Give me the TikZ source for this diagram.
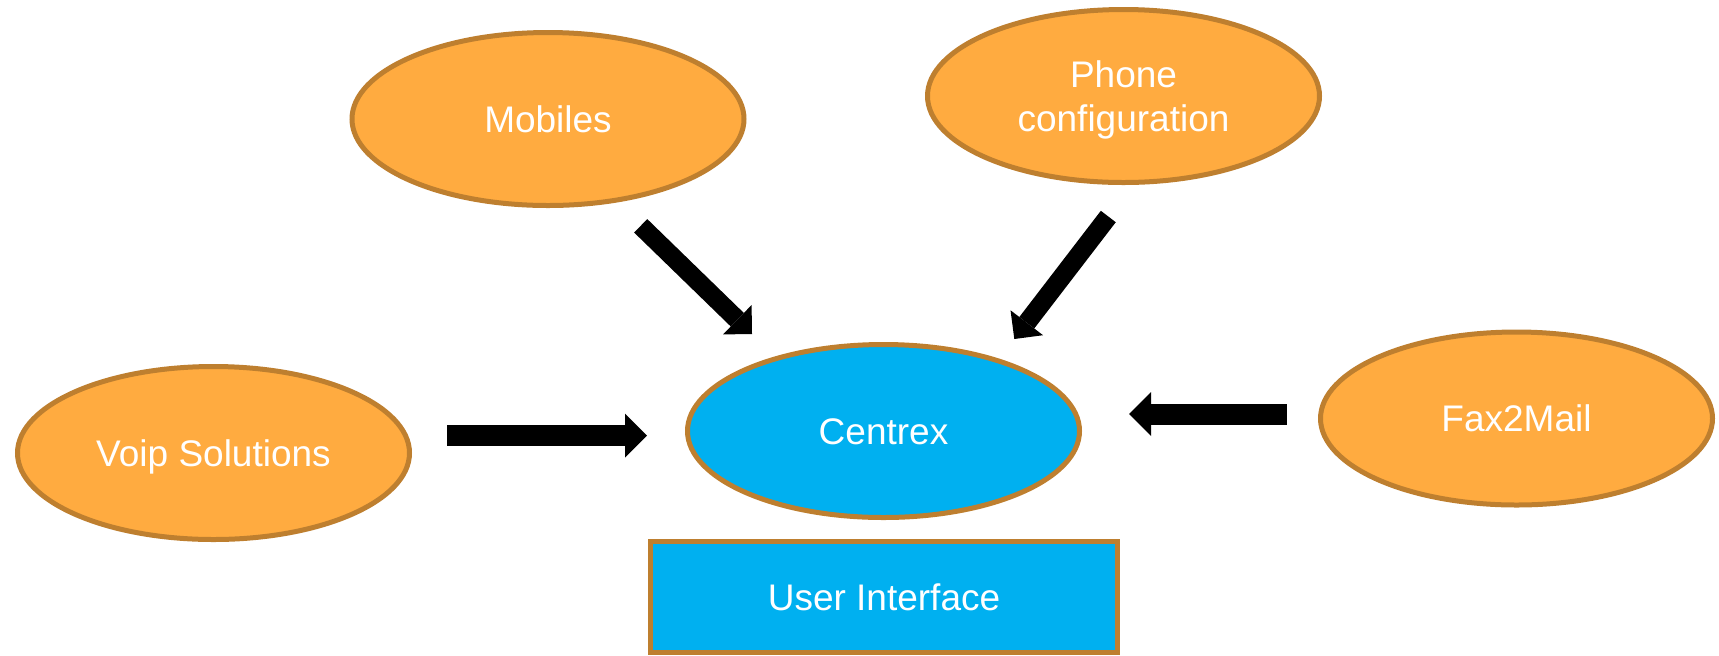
\documentclass[tikz,border=0pt]{standalone}
\usepackage{fontspec}
\setmainfont{Liberation Sans}
\usetikzlibrary{arrows.meta,shapes.geometric}
\definecolor{orfill}{HTML}{FFAB40}
\definecolor{brstroke}{HTML}{BE7F2F}
\definecolor{bluefill}{HTML}{00B0F0}
\begin{document}
\begin{tikzpicture}[x=0.5pt,y=-0.5pt,
  lbl/.style={text=white, font=\fontsize{18.5}{22}\selectfont, align=center, inner sep=0pt},
  oneline/.style={text height=13.25pt, text depth=0pt},
  blob/.style={lbl, ellipse, draw=brstroke, line width=2.5pt, fill=orfill,
    minimum width=196pt, minimum height=86.5pt},
  hub/.style={blob, fill=bluefill},
  uibox/.style={lbl, rectangle, draw=brstroke, line width=2.5pt, fill=bluefill,
    minimum width=233.5pt, minimum height=55.5pt},
  diagarrow/.style={line width=9.4pt, -{Triangle[length=10.25pt, width=20.5pt, line width=0pt]}},
  horzarrow/.style={line width=10.5pt, -{Triangle[length=11pt, width=22pt, line width=0pt]}}
]
\useasboundingbox (0,0) rectangle (1719,655);

\node[blob, oneline] (mob) at (548,119) {Mobiles};
\node[blob, text depth=-1.2pt] (phone) at (1123.5,96) {Phone\\configuration};
\node[hub, oneline] (cen) at (883.5,431) {Centrex};
\node[blob, oneline] (voip) at (213.5,453) {Voip Solutions};
\node[blob, oneline] (fax) at (1516.5,418.5) {Fax2Mail};
\node[uibox, oneline] (ui) at (884,597) {User Interface};

\coordinate (m1) at (640.7,225.8);
\coordinate (m2) at (752,334);
\coordinate (p1) at (1108.3,216.5);
\coordinate (p2) at (1014.3,339);
\coordinate (v1) at (447,435.5);
\coordinate (v2) at (647,435.5);
\coordinate (f1) at (1286.5,414);
\coordinate (f2) at (1129,414);

\draw[diagarrow] (m1) -- (m2);
\draw[diagarrow] (p1) -- (p2);
\draw[horzarrow] (v1) -- (v2);
\draw[horzarrow] (f1) -- (f2);
\end{tikzpicture}
\end{document}
